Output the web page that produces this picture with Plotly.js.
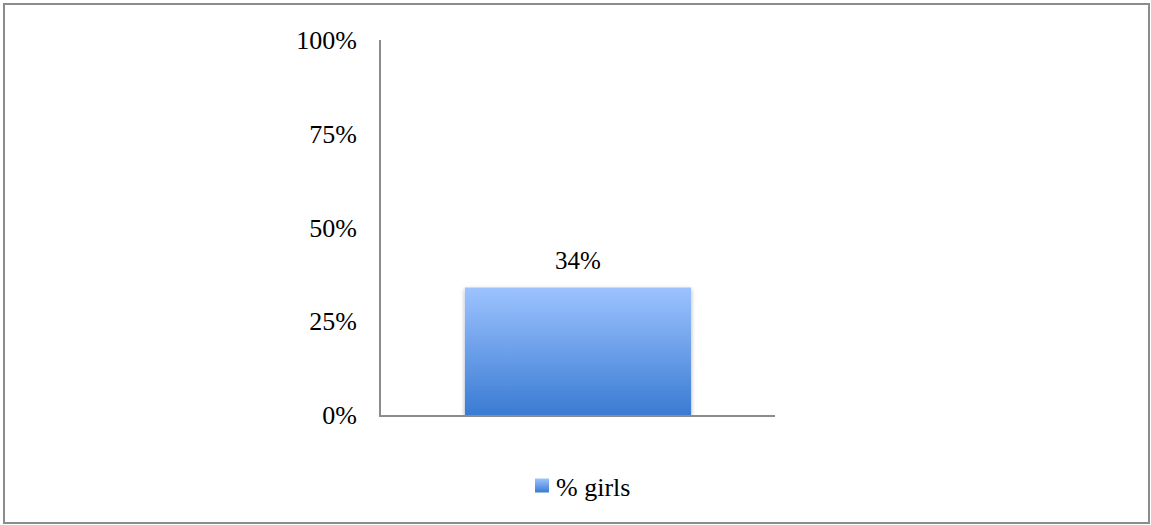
<!DOCTYPE html>
<html>
<head>
<meta charset="utf-8">
<script src="https://cdn.plot.ly/plotly-3.0.1.min.js"></script>
<style>
  html, body { margin: 0; padding: 0; background: #fff; }
  #wrap { position: relative; width: 1151px; height: 525px; }
  #chart { width: 1151px; height: 525px; }
  #frame { position: absolute; left: 3px; top: 3px; width: 1143px; height: 517px;
           border: 2px solid #8c8c8c; pointer-events: none; }
</style>
</head>
<body>
<div id="wrap">
  <div id="chart"></div>
  <div id="frame"></div>
</div>
<script>
const categories = ["Girls"];
const seriesName = "% girls";
const values = [0.34];
const valueLabels = ["34%"];
const tickValues = [0, 0.25, 0.5, 0.75, 1];
const tickLabels = ["0%", "25%", "50%", "75%", "100%"];

const fontFamily = "'Liberation Serif', 'DejaVu Serif', serif";

const trace = {
  type: "bar",
  name: seriesName,
  x: categories,
  y: values,
  marker: { color: "#6a9ee8", line: { width: 0 } },
  showlegend: true,
  hoverinfo: "none"
};

const layout = {
  width: 1151,
  height: 525,
  margin: { l: 381, r: 376, t: 40, b: 110, pad: 0 },
  paper_bgcolor: "#ffffff",
  plot_bgcolor: "#ffffff",
  font: { family: fontFamily, size: 26, color: "#000" },
  bargap: 0.426,
  showlegend: true,
  legend: {
    orientation: "h",
    x: 0.5, xanchor: "center",
    y: -0.186, yanchor: "middle",
    font: { family: fontFamily, size: 26, color: "#000" },
    itemwidth: 30
  },
  xaxis: {
    showticklabels: false,
    showgrid: false,
    zeroline: false,
    showline: true,
    linecolor: "#8c8c8c",
    linewidth: 2,
    ticks: "",
    fixedrange: true
  },
  yaxis: {
    range: [0, 1],
    tickvals: tickValues,
    ticktext: tickLabels,
    showgrid: false,
    zeroline: false,
    showline: true,
    linecolor: "#8c8c8c",
    linewidth: 2,
    ticks: "outside",
    ticklen: 17,
    tickcolor: "rgba(0,0,0,0)",
    tickfont: { family: fontFamily, size: 26, color: "#000" },
    fixedrange: true
  },
  annotations: categories.map((c, i) => ({
    x: c, y: values[i], xref: "x", yref: "y",
    text: valueLabels[i], showarrow: false,
    yanchor: "bottom", yshift: 12,
    font: { family: fontFamily, size: 25, color: "#000" }
  }))
};

Plotly.newPlot("chart", [trace], layout, { displayModeBar: false, staticPlot: true }).then(function (gd) {
  const svg = gd.querySelector("svg.main-svg");
  const NS = "http://www.w3.org/2000/svg";
  const defs = document.createElementNS(NS, "defs");
  function grad(id) {
    const g = document.createElementNS(NS, "linearGradient");
    g.setAttribute("id", id);
    g.setAttribute("x1", "0"); g.setAttribute("y1", "0");
    g.setAttribute("x2", "0"); g.setAttribute("y2", "1");
    [["0%", "#9dc3ff"], ["100%", "#3a7bd3"]].forEach(function (s) {
      const st = document.createElementNS(NS, "stop");
      st.setAttribute("offset", s[0]);
      st.setAttribute("stop-color", s[1]);
      g.appendChild(st);
    });
    return g;
  }
  defs.appendChild(grad("barGrad"));
  const f = document.createElementNS(NS, "filter");
  f.setAttribute("id", "barShadow");
  f.setAttribute("x", "-10%"); f.setAttribute("y", "-10%");
  f.setAttribute("width", "120%"); f.setAttribute("height", "130%");
  const ds = document.createElementNS(NS, "feDropShadow");
  ds.setAttribute("dx", "0"); ds.setAttribute("dy", "2");
  ds.setAttribute("stdDeviation", "2");
  ds.setAttribute("flood-color", "#000"); ds.setAttribute("flood-opacity", "0.35");
  f.appendChild(ds);
  defs.appendChild(f);
  svg.insertBefore(defs, svg.firstChild);
  gd.querySelectorAll(".bars .point path").forEach(function (p) {
    p.style.fill = "url(#barGrad)";
    p.setAttribute("filter", "url(#barShadow)");
  });
  // Legend swatch: larger square, text closer, placed as in the reference
  const sw = gd.querySelector(".legend .legendpoints path");
  const txt = gd.querySelector(".legend .legendtext");
  if (sw) {
    sw.setAttribute("d", "M7,7H-7V-7H7Z");
    sw.style.fill = "url(#barGrad)";
  }
  if (txt) txt.setAttribute("x", "34");
  const leg = gd.querySelector(".legend");
  if (leg && sw) {
    const r = sw.getBoundingClientRect();
    const cx = (r.left + r.right) / 2, cy = (r.top + r.bottom) / 2;
    const tr = leg.getAttribute("transform") || "";
    const m = /translate\(([-\d.]+),\s*([-\d.]+)\)/.exec(tr);
    if (m) {
      const nx = parseFloat(m[1]) + (542 - cx);
      const ny = parseFloat(m[2]) + (485.5 - cy);
      leg.setAttribute("transform", "translate(" + nx + "," + ny + ")");
    }
  }
});
</script>
</body>
</html>
